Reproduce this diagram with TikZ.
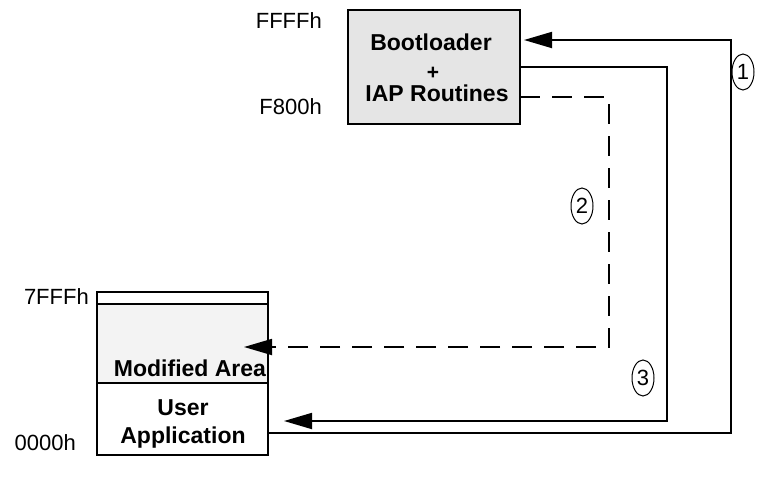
\documentclass[tikz,border=0pt]{standalone}
\usepackage{fontspec}
\setmainfont{Liberation Sans}
\newfontfamily\addrfont{Liberation Sans}
\newfontfamily\boxfont{Liberation Sans}
\usetikzlibrary{arrows.meta,shapes.geometric}
\definecolor{bootgray}{HTML}{E5E5E5}
\definecolor{modgray}{HTML}{F3F3F3}
\tikzset{
  membox/.style={draw, line width=2.2pt, inner sep=0pt, outer sep=0pt},
  conn/.style={line width=1.8pt},
  bigtip/.style={-{Triangle[length=28pt,width=16pt]}},
  addr/.style={inner sep=0pt, anchor=east, font=\addrfont\fontsize{22}{26}\selectfont},
  boxtxt/.style={inner sep=0pt, font=\boxfont\bfseries\fontsize{23}{27}\selectfont},
  stepno/.style={draw, ellipse, line width=1pt, minimum width=22pt, minimum height=36pt,
    inner sep=0pt, font=\addrfont\fontsize{22}{26}\selectfont},
}
\begin{document}
\begin{tikzpicture}[x=1pt,y=-1pt]
\useasboundingbox (0,0) rectangle (773,479);

% boot block at the top of memory
\node[membox, fill=bootgray, minimum width=172pt, minimum height=114pt] (boot) at (434,67) {};
\node[boxtxt] (bl) at (431,42) {Bootloader};
\node[boxtxt, font=\boxfont\bfseries\fontsize{21}{24}\selectfont] (plus) at (433,73) {+};
\node[boxtxt] (iap) at (437,93) {IAP Routines};

% user block at the bottom of memory
\node[membox, fill=white, minimum width=171pt, minimum height=12pt] (strip) at (182.5,298) {};
\node[membox, fill=modgray, minimum width=171pt, minimum height=79pt] (mod) at (182.5,343.5) {};
\node[membox, fill=white, minimum width=171pt, minimum height=72pt] (app) at (182.5,419) {};
\node[boxtxt] (modtxt) at (190,368) {Modified Area};
\node[boxtxt] (user) at (183,408) {User};
\node[boxtxt] (appl) at (183,438) {Application};

% address labels
\node[addr] (aFFFF) at (322,21) {FFFFh};
\node[addr] (aF800) at (322,107) {F800h};
\node[addr] (a7FFF) at (89,297) {7FFFh};
\node[addr] (a0000) at (76,443) {0000h};

% corner points of the flow paths
\coordinate (c1b) at (731,433);
\coordinate (c1t) at (731,40);
\coordinate (c3t) at (667,67);
\coordinate (c3b) at (667,421);
\coordinate (c2t) at (609,97);
\coordinate (c2b) at (609,347);
\coordinate (c2end) at (244,347);

% step 1: user application jumps to the bootloader
\draw[conn, bigtip, shorten >=4pt] (app.east |- c1b) -- (c1b) -- (c1t) -- (boot.east |- c1t);
% step 3: back to the user application
\draw[conn, bigtip, shorten >=16pt] (boot.east |- c3t) -- (c3t) -- (c3b) -- (app.east |- c3b);
% step 2: IAP routines rewrite the modified area
\draw[conn, bigtip, dash pattern=on 20pt off 12pt] (boot.east |- c2t) -- (c2t) -- (c2b) -- (c2end);

% step numbers
\node[stepno] (s1) at (743,72) {1};
\node[stepno] (s2) at (582,206) {2};
\node[stepno] (s3) at (643,378) {3};
\end{tikzpicture}
\end{document}
